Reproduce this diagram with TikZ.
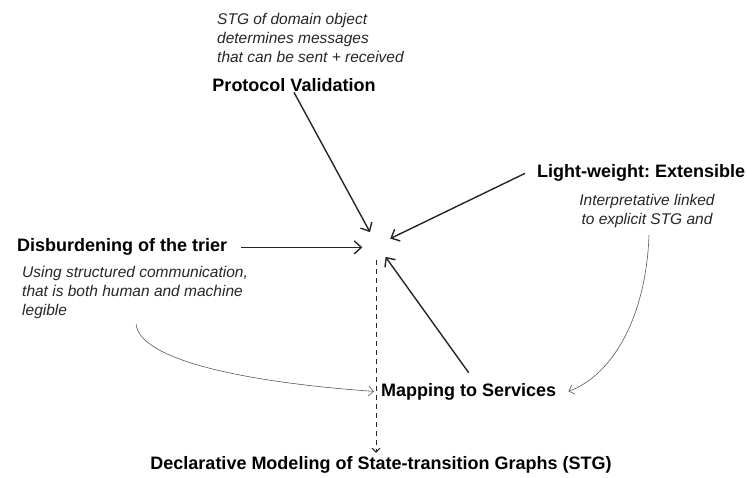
\documentclass[tikz,border=0pt]{standalone}
\usepackage{fontspec}
\setmainfont{Liberation Sans}
\usetikzlibrary{arrows.meta}

\begin{document}
\begin{tikzpicture}[x=1pt, y=1pt,
  title/.style={font=\fontsize{18}{20}\selectfont\bfseries, inner sep=0pt},
  note/.style={font=\fontsize{15.5}{19}\selectfont\itshape, inner sep=0pt, text=black!85},
  arr/.style={draw=black!85, line width=1.4pt, -{Straight Barb[length=7pt, width=13pt]}},
  curvearr/.style={draw=black!65, line width=0.6pt, -{Straight Barb[length=5pt, width=10pt]}}]

\useasboundingbox (0,0) rectangle (747,-478);

% -------- Headings -----------
\node [title, anchor=base]      (protocol) at (294,-92)  {Protocol Validation};
\node [title, anchor=base west] (light)    at (537,-178) {Light-weight:\ Extensible};
\node [title, anchor=base west] (disb)     at (17,-252)  {Disburdening of the trier};
\node [title, anchor=base west] (mapping)  at (381,-396) {Mapping to Services};
\node [title, anchor=base]      (decl)     at (381,-469) {Declarative Modeling of State-transition Graphs (STG)};

% -------- Notes -----------
\node [note, anchor=north west, align=left]   (stgnote)  at (217,-13)
  {STG of domain object\\determines messages\\that can be sent + received};
\node [note, anchor=north, align=center]      (interp)   at (647,-194)
  {Interpretative linked\\to explicit STG and};
\node [note, anchor=north west, align=left]   (usingnote) at (22,-266)
  {Using structured communication,\\that is both human and machine\\legible};

% empty spot where the arrows meet
\node [circle, minimum size=29pt, inner sep=0pt] (hub) at (377,-245) {};

% -------- Arrows -----------
\draw [arr] (protocol.south) -- (hub);
\draw [arr] ([xshift=14pt]disb.east) -- (hub.west |- disb.east);
\draw [arr] ([xshift=-12pt]light.west) -- (hub);
\draw [arr] ([yshift=10pt]mapping.north) -- (hub);

\draw [draw=black!85, line width=0.9pt, dash pattern=on 5pt off 4pt,
       -{Straight Barb[length=4pt, width=8pt]}]
  ([xshift=-1pt]hub.south) -- ([xshift=-1pt, yshift=3pt]hub.south |- decl.north);

% -------- Curves -----------
\draw [curvearr] ([xshift=1pt, yshift=-5pt]usingnote.south)
  to [out=-85, in=176, out distance=38pt, in distance=120pt] ([xshift=-7pt]mapping.west);
\draw [curvearr] ([xshift=2pt, yshift=-7pt]interp.south)
  to [out=-92, in=20, out distance=85pt, in distance=45pt] ([xshift=12pt]mapping.east);

\end{tikzpicture}
\end{document}
